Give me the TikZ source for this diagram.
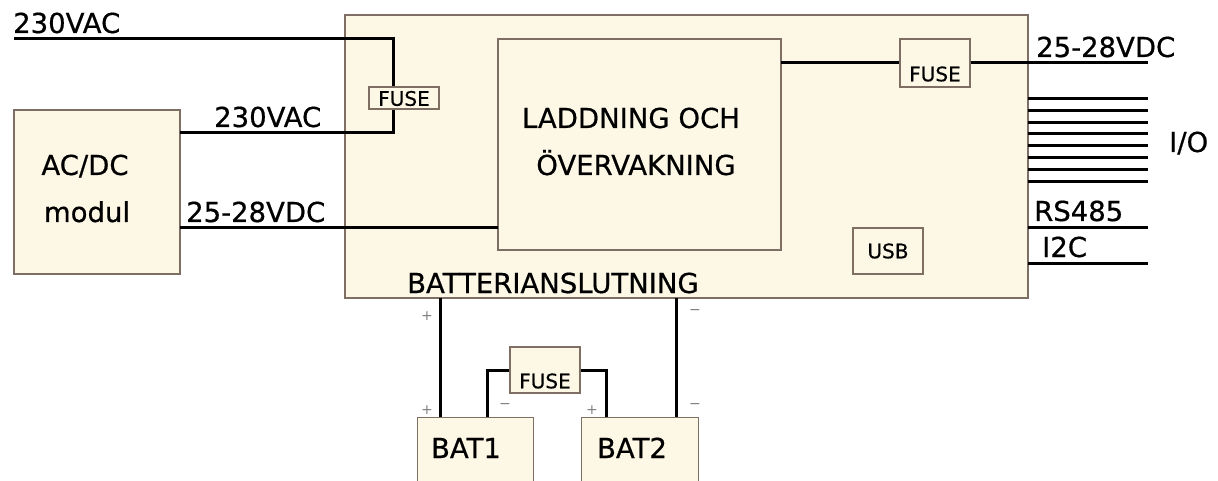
\documentclass[tikz,border=0pt]{standalone}
\usepackage{fontspec}
\setmainfont{DejaVu Sans}[FakeBold=0.6]
\newfontfamily\signfont{DejaVu Sans}
\definecolor{boxfill}{HTML}{FDF8E6}
\definecolor{boxline}{HTML}{7E6E64}
\definecolor{signcol}{HTML}{808080}
\begin{document}
\begin{tikzpicture}[x=1pt,y=-1pt,
  blk/.style={draw=boxline,fill=boxfill,line width=1.2pt,inner sep=0pt},
  wire/.style={line width=3pt,line cap=rect,black},
  big/.style={font=\fontsize{27.5}{30}\selectfont,inner sep=0pt},
  small/.style={font=\fontsize{20}{22}\selectfont,inner sep=0pt},
  sign/.style={font=\signfont\fontsize{14}{14}\selectfont,text=signcol,inner sep=0pt}]
\useasboundingbox (0,0) rectangle (1218,481);
% boxes
\node[blk,minimum width=683pt,minimum height=283pt] (main) at (686.5,156.5) {};
\node[blk,minimum width=166pt,minimum height=164pt] (acdc) at (97,192) {};
\node[blk,minimum width=283pt,minimum height=211pt] (inner) at (639.5,144.5) {};
% coordinates
\coordinate (acin) at (14,39);
\coordinate (bend1) at (393,39);
\coordinate (bend2) at (393,133);
\coordinate (acout) at (180,133);
\coordinate (dcout) at (180,228);
\coordinate (dcin) at (498,228);
\coordinate (fro) at (781,63);
\coordinate (dcend) at (1148,63);
% wires
\draw[wire,line cap=butt] (acin) -- (bend1) -- (bend2) -- (acout);
\draw[wire,line cap=butt] (dcout) -- (dcin);
\node[blk,minimum width=70pt,minimum height=22pt] (fL) at (404,98) {};
\node[small] (fLt) at (404,98.5) {FUSE};
\node[blk,minimum width=70pt,minimum height=48pt] (fR) at (935,63) {};
\node[small] (fRt) at (935,74) {FUSE};
\draw[wire,line cap=butt] (fro) -- (fR.west);
\draw[wire,line cap=butt] (fR.east) -- (dcend);
\node[blk,minimum width=70pt,minimum height=46pt] (usb) at (888,251) {};
\node[small] (usbt) at (888,251) {USB};
% I/O lines
\foreach \i in {0,...,7}{
  \coordinate (io\i a) at (1028,98.5+\i*11.8);
  \coordinate (io\i b) at (1148,98.5+\i*11.8);
  \draw[wire,line cap=butt] (io\i a) -- (io\i b);
}
\coordinate (rsa) at (1028,228); \coordinate (rsb) at (1148,228);
\coordinate (i2a) at (1028,263); \coordinate (i2b) at (1148,263);
\draw[wire,line cap=butt] (rsa) -- (rsb);
\draw[wire,line cap=butt] (i2a) -- (i2b);
% labels
\node[big,anchor=base west] (l1) at (13,33) {230VAC};
\node[big,anchor=base west] (l2) at (214,127) {230VAC};
\node[big,anchor=base west] (l3) at (186,222) {25-28VDC};
\node[big,anchor=base west] (l4) at (1036,57) {25-28VDC};
\node[big,anchor=base west] (l5) at (1169,152) {I/O};
\node[big,anchor=base west] (l6) at (1034,221) {RS485};
\node[big,anchor=base west] (l7) at (1042,257) {I2C};
\node[big,anchor=base west] (l8) at (407,293) {BATTERIANSLUTNING};
\node[big,anchor=base] (t1) at (631,128) {LADDNING OCH};
\node[big,anchor=base] (t2) at (636,175) {ÖVERVAKNING};
\node[big,anchor=base] (a1) at (85,175) {AC/DC};
\node[big,anchor=base] (a2) at (87,222) {modul};
% batteries
\node[blk,minimum width=116pt,minimum height=100pt,anchor=north west] (bat1) at (417,417) {};
\node[blk,minimum width=117pt,minimum height=100pt,anchor=north west] (bat2) at (581,417) {};
\node[big,anchor=base] (b1t) at (466,458) {BAT1};
\node[big,anchor=base] (b2t) at (632,458) {BAT2};
\coordinate (p1) at (440,298);
\coordinate (m1) at (676,298);
\draw[wire,line cap=butt] (p1) -- (p1 |- bat1.north);
\draw[wire,line cap=butt] (m1) -- (m1 |- bat2.north);
\node[blk,minimum width=70pt,minimum height=46pt] (fB) at (545,370) {};
\node[small] (fBt) at (545,381) {FUSE};
\coordinate (n1) at (487,417);
\coordinate (p2) at (606,417);
\draw[wire,line cap=butt] (n1) -- (487,370) -- (fB.west);
\draw[wire,line cap=butt] (fB.east) -- (606,370) -- (p2);
% signs
\node[sign] (s1) at (427,316) {+};
\node[sign] (s2) at (695,312) {−};
\node[sign] (s3) at (427,410) {+};
\node[sign] (s4) at (505,406) {−};
\node[sign] (s5) at (592,410) {+};
\node[sign] (s6) at (695,406) {−};
\end{tikzpicture}
\end{document}
